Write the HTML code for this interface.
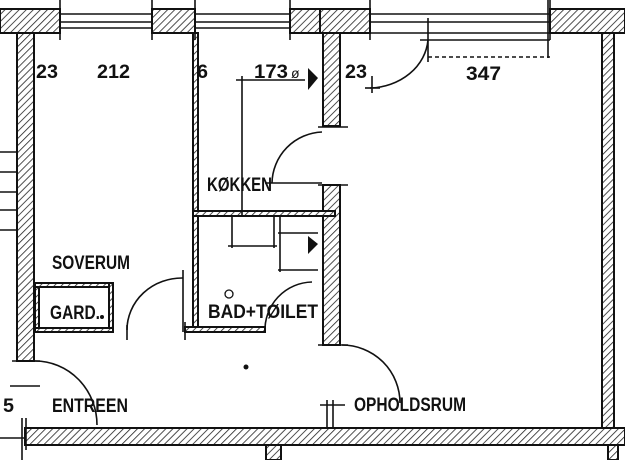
<!DOCTYPE html>
<html><head><meta charset="utf-8"><style>
html,body{margin:0;padding:0;background:#fff;}
svg{display:block}
text{font-family:"Liberation Sans",sans-serif;font-size:19px;fill:#111;font-weight:bold;}
</style></head><body>
<svg width="625" height="460" viewBox="0 0 625 460" xmlns="http://www.w3.org/2000/svg">
<defs>
<pattern id="h" width="5" height="5" patternUnits="userSpaceOnUse" patternTransform="rotate(45)">
<rect width="5" height="5" fill="#fff"/><line x1="0" y1="0" x2="0" y2="5" stroke="#222" stroke-width="1.6"/>
</pattern>
</defs>
<g stroke="#111" stroke-width="2" fill="url(#h)">
<rect x="0" y="9" width="60" height="24"/>
<rect x="152" y="9" width="43" height="24"/>
<rect x="290" y="9" width="55" height="24"/>
<rect x="320" y="9" width="50" height="24"/>
<rect x="550" y="9" width="75" height="24"/>
<rect x="17" y="33" width="17" height="328"/>
<rect x="323" y="33" width="17" height="93"/>
<rect x="323" y="185" width="17" height="160"/>
<rect x="602" y="33" width="12" height="395"/>
<rect x="25" y="428" width="600" height="17"/>
<rect x="266" y="445" width="15" height="15"/>
<rect x="608" y="445" width="10" height="15"/>
<rect x="193" y="33" width="5" height="298"/>
<rect x="193" y="211" width="142" height="5"/>
<rect x="185" y="327" width="80" height="5"/>
<rect x="35" y="283" width="4" height="49"/>
<rect x="35" y="283" width="78" height="4"/>
<rect x="109" y="283" width="4" height="49"/>
<rect x="35" y="328" width="78" height="4"/>
</g>
<g stroke="#111" stroke-width="1.6" fill="none">
<line x1="60" y1="14" x2="152" y2="14"/><line x1="60" y1="22" x2="152" y2="22"/><line x1="60" y1="28" x2="152" y2="28"/>
<line x1="195" y1="14" x2="290" y2="14"/><line x1="195" y1="22" x2="290" y2="22"/><line x1="195" y1="28" x2="290" y2="28"/>
<line x1="370" y1="14" x2="550" y2="14"/><line x1="370" y1="22" x2="550" y2="22"/><line x1="370" y1="33" x2="550" y2="33"/><line x1="420" y1="40" x2="550" y2="40"/>
<line x1="60" y1="0" x2="60" y2="40"/><line x1="152" y1="0" x2="152" y2="40"/><line x1="195" y1="0" x2="195" y2="40"/><line x1="290" y1="0" x2="290" y2="40"/>
<line x1="370" y1="0" x2="370" y2="40"/><line x1="550" y1="0" x2="550" y2="40"/><line x1="548" y1="0" x2="548" y2="58"/>
<line x1="428" y1="57" x2="550" y2="57" stroke-dasharray="4 3"/>
<line x1="236" y1="80" x2="305" y2="80"/>
<line x1="242" y1="76" x2="242" y2="215"/>
<line x1="265" y1="183" x2="322" y2="183"/>
<line x1="428" y1="18" x2="428" y2="62"/>
<path d="M428 40 A60 52 0 0 1 370 88"/>
<line x1="372" y1="76" x2="372" y2="93"/><line x1="365" y1="88" x2="380" y2="88"/>
<path d="M322 132 A52 52 0 0 0 272 183"/>
<path d="M35 361 A62 64 0 0 1 97 425"/>
<path d="M127 330 A55 52 0 0 1 183 278"/>
<line x1="183" y1="270" x2="183" y2="332"/>
<path d="M265 332 A48 48 0 0 1 312 282"/>
<path d="M342 345 A58 58 0 0 1 400 403"/>
<line x1="232" y1="216" x2="232" y2="248"/><line x1="228" y1="246" x2="277" y2="246"/><line x1="274" y1="216" x2="274" y2="248"/>
<line x1="280" y1="216" x2="280" y2="272"/><line x1="278" y1="233" x2="318" y2="233"/><line x1="278" y1="270" x2="318" y2="270"/>
<line x1="0" y1="152" x2="17" y2="152"/><line x1="0" y1="172" x2="17" y2="172"/><line x1="0" y1="192" x2="17" y2="192"/><line x1="0" y1="210" x2="17" y2="210"/><line x1="0" y1="230" x2="17" y2="230"/>
<line x1="10" y1="386" x2="40" y2="386"/><line x1="0" y1="438" x2="25" y2="438"/>
<line x1="12" y1="361" x2="40" y2="361"/><line x1="22" y1="418" x2="22" y2="460"/><line x1="26" y1="418" x2="26" y2="450"/>
<line x1="320" y1="405" x2="345" y2="405"/><line x1="327" y1="400" x2="327" y2="428"/><line x1="333" y1="400" x2="333" y2="428"/>
<line x1="318" y1="345" x2="348" y2="345"/><line x1="318" y1="127" x2="348" y2="127"/><line x1="318" y1="185" x2="348" y2="185"/>
<line x1="127" y1="325" x2="127" y2="340"/><line x1="185" y1="322" x2="185" y2="340"/>
</g>
<path d="M308 68 L318 78 L308 90 Z" fill="#111"/>
<path d="M308 236 L318 244 L308 254 Z" fill="#111"/>
<circle cx="246" cy="367" r="2.5" fill="#111"/>
<circle cx="102" cy="317" r="2" fill="#111"/>
<circle cx="229" cy="294" r="4" fill="none" stroke="#111" stroke-width="1.3"/>
<g>
<text x="36" y="78" textLength="22" lengthAdjust="spacingAndGlyphs">23</text>
<text x="97" y="78" textLength="33" lengthAdjust="spacingAndGlyphs">212</text>
<text x="197" y="78" textLength="11" lengthAdjust="spacingAndGlyphs">6</text>
<text x="254" y="78" textLength="34" lengthAdjust="spacingAndGlyphs">173</text>
<text x="291" y="78" style="font-size:14px;font-weight:normal">ø</text>
<text x="345" y="78" textLength="22" lengthAdjust="spacingAndGlyphs">23</text>
<text x="466" y="80" textLength="35" lengthAdjust="spacingAndGlyphs">347</text>
<text x="207" y="191" textLength="65" lengthAdjust="spacingAndGlyphs">KØKKEN</text>
<text x="52" y="269" textLength="78" lengthAdjust="spacingAndGlyphs">SOVERUM</text>
<text x="50" y="319" textLength="50" lengthAdjust="spacingAndGlyphs">GARD.</text>
<text x="208" y="318" textLength="110" lengthAdjust="spacingAndGlyphs">BAD+TØILET</text>
<text x="3" y="412" textLength="11" lengthAdjust="spacingAndGlyphs">5</text>
<text x="52" y="412" textLength="76" lengthAdjust="spacingAndGlyphs">ENTREEN</text>
<text x="354" y="411" textLength="112" lengthAdjust="spacingAndGlyphs">OPHOLDSRUM</text>
</g>
</svg>
</body></html>
